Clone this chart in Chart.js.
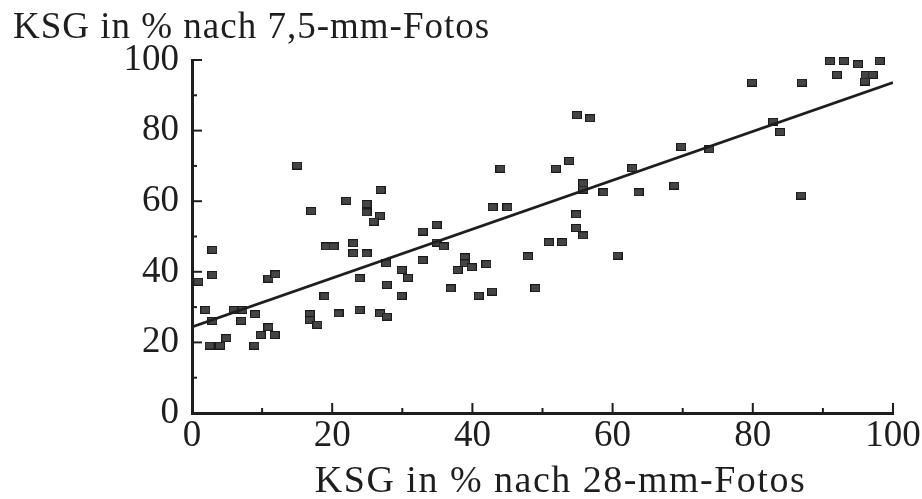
<!DOCTYPE html>
<html><head><meta charset="utf-8">
<script src="https://cdn.jsdelivr.net/npm/chart.js@4"></script>
<style>html,body{margin:0;padding:0;background:#fff}#wrap{width:922px;height:499px}</style>
</head><body><div id="wrap"><canvas id="c" width="922" height="499"></canvas></div>
<script>
const xValues = [0.9,2.9,2.9,1.9,2.9,2.5,4.0,4.9,6.0,7.2,
  7.0,9.0,8.9,10.9,11.9,10.9,9.8,11.8,15.0,17.0,
  16.8,16.8,17.9,18.9,19.1,20.2,20.9,22.0,23.0,23.0,
  24.9,23.9,23.9,24.9,24.9,26.9,26.8,25.9,27.7,27.8,
  26.8,27.8,29.9,30.8,29.9,32.9,34.9,32.9,34.9,35.9,
  36.9,38.9,38.9,37.9,39.9,42.0,40.9,42.8,44.0,42.9,
  45.0,47.9,49.0,51.9,53.8,50.9,52.8,54.8,54.8,55.8,
  55.8,55.8,58.7,54.9,56.8,60.7,62.8,63.7,68.8,69.8,
  73.8,79.9,82.9,83.9,87.0,86.9,91.0,93.0,95.0,98.1,
  92.0,96.1,97.1,96.0];
const yValues = [37.2,46.2,39.1,29.2,26.1,19.1,19.1,21.2,29.2,29.2,
  26.1,28.0,19.1,38.1,39.3,24.3,22.1,22.1,70.1,57.2,
  28.0,26.3,25.0,33.1,47.2,47.2,28.2,60.1,48.1,45.3,
  45.2,38.2,29.2,59.2,56.8,63.2,55.8,54.2,42.4,36.3,
  28.2,27.3,40.5,38.3,33.2,51.4,53.3,43.3,48.3,47.2,
  35.3,44.1,42.4,40.5,41.3,42.2,33.2,34.4,69.2,58.3,
  58.3,44.4,35.4,69.2,71.4,48.4,48.4,56.3,52.4,50.3,
  65.1,63.3,62.5,84.4,83.5,44.6,69.4,62.5,64.4,75.4,
  74.7,93.6,82.5,79.6,93.6,61.6,99.7,99.7,98.8,99.7,
  95.8,95.8,95.8,93.9];
const fitLineX = [0, 100];
const fitLineY = [24.4, 93.6];
const xTickLabels = [0, 20, 40, 60, 80, 100];
const yTickLabels = [0, 20, 40, 60, 80, 100];
const yAxisTitle = 'KSG in % nach 7,5-mm-Fotos';
const xAxisTitle = 'KSG in % nach 28-mm-Fotos';

const FONT = "'Liberation Serif', 'Times New Roman', serif";
const INK = '#1e1e1e';

// rectangular marker
const mk = document.createElement('canvas');
mk.width = 10; mk.height = 8;
(function(){const g = mk.getContext('2d');
  g.fillStyle = '#1a1a1a'; g.fillRect(0,0,10,8);
  g.fillStyle = '#444'; g.fillRect(1,1,8,6);})();

const innerTicks = {
  id: 'innerTicks',
  afterDraw(chart) {
    const ctx = chart.ctx, a = chart.chartArea;
    const xs = chart.scales.x, ys = chart.scales.y;
    ctx.save();
    ctx.strokeStyle = INK; ctx.lineWidth = 2;
    xs.ticks.forEach(t => {
      const px = xs.getPixelForValue(t.value);
      const len = xTickLabels.includes(t.value) ? 10 : 5;
      ctx.beginPath(); ctx.moveTo(px, a.bottom); ctx.lineTo(px, a.bottom - len); ctx.stroke();
    });
    ys.ticks.forEach(t => {
      const py = ys.getPixelForValue(t.value);
      const len = yTickLabels.includes(t.value) ? 10 : 5;
      ctx.beginPath(); ctx.moveTo(a.left, py); ctx.lineTo(a.left + len, py); ctx.stroke();
    });
    // axis titles
    ctx.fillStyle = INK;
    ctx.textBaseline = 'alphabetic';
    ctx.font = "37px " + FONT;
    if ('letterSpacing' in ctx) ctx.letterSpacing = '1px';
    ctx.textAlign = 'left';
    ctx.fillText(yAxisTitle, 13, 38);
    ctx.font = "38px " + FONT;
    if ('letterSpacing' in ctx) ctx.letterSpacing = '1.5px';
    ctx.textAlign = 'center';
    ctx.fillText(xAxisTitle, (a.left + a.right) / 2 + 18, 492);
    if ('letterSpacing' in ctx) ctx.letterSpacing = '0px';
    ctx.restore();
  }
};

new Chart(document.getElementById('c'), {
  type: 'scatter',
  data: {
    datasets: [
      {
        type: 'line',
        data: fitLineX.map((x, i) => ({x, y: fitLineY[i]})),
        borderColor: INK, borderWidth: 2.8, pointRadius: 0, fill: false, order: 0
      },
      {
        data: xValues.map((x, i) => ({x, y: yValues[i]})),
        pointStyle: mk, pointRadius: 5, clip: false, order: 1
      }
    ]
  },
  options: {
    responsive: false, animation: false, devicePixelRatio: 1,
    layout: { padding: { left: 13, right: 29, top: 60, bottom: 0 } },
    plugins: { legend: { display: false }, tooltip: { enabled: false }, title: { display: false } },
    scales: {
      x: {
        type: 'linear', min: 0, max: 100,
        afterFit: s => { s.height = 86; },
        border: { display: true, color: INK, width: 3 },
        grid: { display: false, drawTicks: false },
        ticks: { stepSize: 10, autoSkip: false, maxRotation: 0, color: INK, padding: 1,
          font: { family: FONT, size: 37 },
          callback: v => xTickLabels.includes(v) ? String(v) : '' }
      },
      y: {
        type: 'linear', min: 0, max: 100,
        afterFit: s => { s.width = 179; },
        border: { display: true, color: INK, width: 3 },
        grid: { display: false, drawTicks: false },
        ticks: { stepSize: 10, autoSkip: false, color: INK, padding: 13,
          font: { family: FONT, size: 37 },
          callback: v => yTickLabels.includes(v) ? String(v) : '' }
      }
    }
  },
  plugins: [innerTicks]
});
</script></body></html>
